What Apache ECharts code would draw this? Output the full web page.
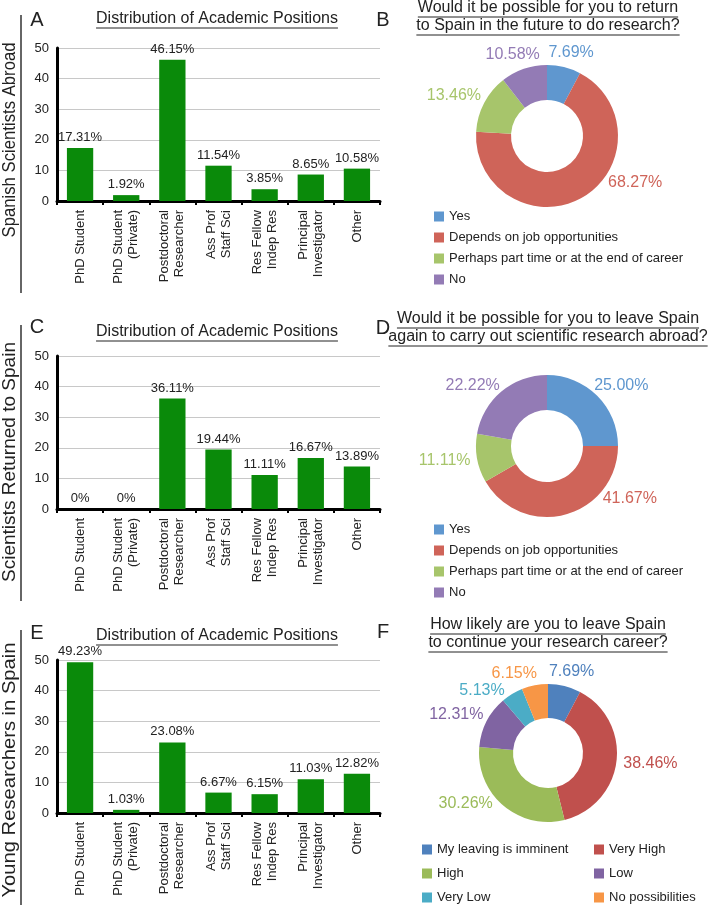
<!DOCTYPE html>
<html><head><meta charset="utf-8">
<script src="https://cdn.jsdelivr.net/npm/echarts@6/dist/echarts.min.js"></script>
<style>html,body{margin:0;padding:0;background:#fff}#c{width:708px;height:908px}</style>
</head><body><div id="c"></div>
<script>
// ---- data ----
const categories = ['PhD Student', 'PhD Student\n(Private)', 'Postdoctoral\nResearcher', 'Ass Prof\nStaff Sci', 'Res Fellow\nIndep Res', 'Principal\nInvestigator', 'Other'];
const yTicks = [0, 10, 20, 30, 40, 50];
const barsA = [17.31, 1.92, 46.15, 11.54, 3.85, 8.65, 10.58];
const barsC = [0, 0, 36.11, 19.44, 11.11, 16.67, 13.89];
const barsE = [49.23, 1.03, 23.08, 6.67, 6.15, 11.03, 12.82];

const pieNamesBD = ['Yes', 'Depends on job opportunities', 'Perhaps part time or at the end of career', 'No'];
const pieB = [7.69, 68.27, 13.46, 10.58];
const pieD = [25.00, 41.67, 11.11, 22.22];
const pieNamesF = ['My leaving is imminent', 'Very High', 'High', 'Low', 'Very Low', 'No possibilities'];
const pieF = [7.69, 38.46, 30.26, 12.31, 5.13, 6.15];

const rowLabels = ['Spanish Scientists Abroad', 'Scientists Returned to Spain', 'Young Researchers in Spain'];
const barTitle = 'Distribution of Academic Positions';
const pieTitles = [
  ['Would it be possible for you to return', 'to Spain in the future to do research?'],
  ['Would it be possible for you to leave Spain', 'again to carry out scientific research abroad?'],
  ['How likely are you to leave Spain', 'to continue your research career?']
];
const letters = ['A', 'B', 'C', 'D', 'E', 'F'];

// ---- styles / layout ----
const FONT = 'Liberation Sans, Arial, sans-serif';
const colBD = ['#5f97cf', '#cf6459', '#a7c56b', '#937bb5'];
const colF = ['#4f81bd', '#c0504d', '#9bbb59', '#8064a2', '#4bacc6', '#f79646'];
const barColor = '#0a8a0a';
const txt = '#222';

const measure = (() => { const cv = document.createElement('canvas').getContext('2d');
  return (t, size) => { cv.font = size + 'px ' + FONT; return cv.measureText(t).width; }; })();

const graphics = [];
function addText(t, x, y, size, opts) {
  graphics.push(Object.assign({ type: 'text', x: x, y: y,
    style: { text: t, font: size + 'px ' + FONT, fill: txt, align: 'center', verticalAlign: 'middle' } }, opts || {}));
}
function underlined(t, cx, cy, size) {
  addText(t, cx, cy, size);
  const w = measure(t, size);
  graphics.push({ type: 'line', shape: { x1: cx - w / 2, y1: cy + size * 0.5 + 1, x2: cx + w / 2, y2: cy + size * 0.5 + 1 },
    style: { stroke: txt, lineWidth: 1 } });
}

const grids = [], xAxes = [], yAxes = [], series = [], legends = [];
const barSets = [barsA, barsC, barsE];
const gridTop = [48, 356, 660];
const divider = [[15, 293], [325, 601], [630, 905]];
const sideCenter = [140, 462, 770];
const sideLength = [195, 240, 255];
const titleY = [19, 332, 636];
const letterY = [[20, 20], [327, 328], [633, 632]];

for (let i = 0; i < 3; i++) {
  grids.push({ left: 57, top: gridTop[i], width: 323, height: 153 });
  xAxes.push({ type: 'category', gridIndex: i, data: categories,
    axisLine: { lineStyle: { color: '#000', width: 3 } },
    axisTick: { show: true, length: 4, interval: 0, lineStyle: { color: '#000', width: 2 } },
    axisLabel: { interval: 0, rotate: 90, fontSize: 13, fontFamily: FONT, color: txt, margin: 9, lineHeight: 15 } });
  yAxes.push({ type: 'value', gridIndex: i, min: yTicks[0], max: yTicks[yTicks.length - 1], interval: 10,
    axisLine: { show: true, lineStyle: { color: '#000', width: 3 } },
    axisTick: { show: false },
    splitLine: { lineStyle: { color: '#c8c8c8', width: 1 } },
    axisLabel: { fontSize: 13, fontFamily: FONT, color: txt, margin: 8 } });
  series.push({ type: 'bar', xAxisIndex: i, yAxisIndex: i, data: barSets[i], barWidth: '57%',
    itemStyle: { color: barColor },
    label: { show: true, position: 'top', distance: 4, fontSize: 13, fontFamily: FONT, color: txt,
      formatter: p => p.value === 0 ? '0%' : p.value.toFixed(2) + '%' } });

  graphics.push({ type: 'line', shape: { x1: 21, y1: divider[i][0], x2: 21, y2: divider[i][1] }, style: { stroke: '#333', lineWidth: 1.5 } });
  const sx = sideLength[i] / measure(rowLabels[i], 19);
  addText(rowLabels[i], 10, sideCenter[i], 19, { rotation: Math.PI / 2, scaleX: sx, scaleY: 1 });
  underlined(barTitle, 217, titleY[i], 16);
  addText(letters[2 * i], 37, letterY[i][0], 20);
  addText(letters[2 * i + 1], 383, letterY[i][1], 20);
}

const pieTitleY = [[8, 26], [319, 337], [625, 643]];
for (let i = 0; i < 3; i++) {
  underlined(pieTitles[i][0], 548, pieTitleY[i][0], 16);
  underlined(pieTitles[i][1], 548, pieTitleY[i][1], 16);
}

// pie configs (label angle overrides in degrees clockwise from 12 o'clock)
const pies = [
  { names: pieNamesBD, vals: pieB, cols: colBD, center: [547, 136], radius: [36, 71], override: { 1: 123 } },
  { names: pieNamesBD, vals: pieD, cols: colBD, center: [547, 446], radius: [36, 71], override: { 1: 128, 3: 315 } },
  { names: pieNamesF, vals: pieF, cols: colF, center: [548, 753], radius: [35, 69], override: { 2: 233, 4: 318, 5: 340 } }
];
const LABEL_GAP = 7;
const firstPieSeries = 3;

function pieLabelLayout(params) {
  const cfg = pies[params.seriesIndex - firstPieSeries];
  if (!cfg) return {};
  const k = params.dataIndex;
  const total = cfg.vals.reduce((a, b) => a + b, 0);
  let cum = 0; for (let j = 0; j < k; j++) cum += cfg.vals[j];
  let ang = (cum + cfg.vals[k] / 2) / total * 360;
  if (cfg.override[k] !== undefined) ang = cfg.override[k];
  const a = ang * Math.PI / 180;
  const ux = Math.sin(a), uy = -Math.cos(a);
  const r = cfg.radius[1] + LABEL_GAP;
  const w = params.labelRect.width, h = params.labelRect.height;
  return { x: cfg.center[0] + ux * r + ux * w / 2, y: cfg.center[1] + uy * r + uy * h / 2,
    align: 'center', verticalAlign: 'middle' };
}

pies.forEach(cfg => {
  series.push({ type: 'pie', center: cfg.center, radius: cfg.radius, startAngle: 90, clockwise: true,
    avoidLabelOverlap: false,
    data: cfg.names.map((n, k) => ({ name: n, value: cfg.vals[k], itemStyle: { color: cfg.cols[k] },
      label: { color: cfg.cols[k] } })),
    label: { show: true, position: 'outside', fontSize: 16, fontFamily: FONT,
      formatter: p => p.value.toFixed(2) + '%' },
    labelLine: { show: false },
    labelLayout: pieLabelLayout,
    emphasis: { disabled: true } });
});

const legBase = { orient: 'vertical', icon: 'rect', itemWidth: 10, itemHeight: 10, itemGap: 8, padding: 0,
  textStyle: { fontSize: 13, fontFamily: FONT, color: txt, lineHeight: 13 }, selectedMode: false };
legends.push(Object.assign({}, legBase, { left: 434, top: 210, data: pieNamesBD.slice() }));
legends.push(Object.assign({}, legBase, { left: 434, top: 523, data: pieNamesBD.slice() }));
legends.push(Object.assign({}, legBase, { left: 422, top: 843, itemGap: 11, data: [pieNamesF[0], pieNamesF[2], pieNamesF[4]] }));
legends.push(Object.assign({}, legBase, { left: 594, top: 843, itemGap: 11, data: [pieNamesF[1], pieNamesF[3], pieNamesF[5]] }));

const chart = echarts.init(document.getElementById('c'), null, { renderer: 'canvas' });
chart.setOption({
  animation: false,
  backgroundColor: '#fff',
  textStyle: { fontFamily: FONT },
  grid: grids, xAxis: xAxes, yAxis: yAxes, series: series, legend: legends,
  graphic: graphics
});
</script></body></html>
